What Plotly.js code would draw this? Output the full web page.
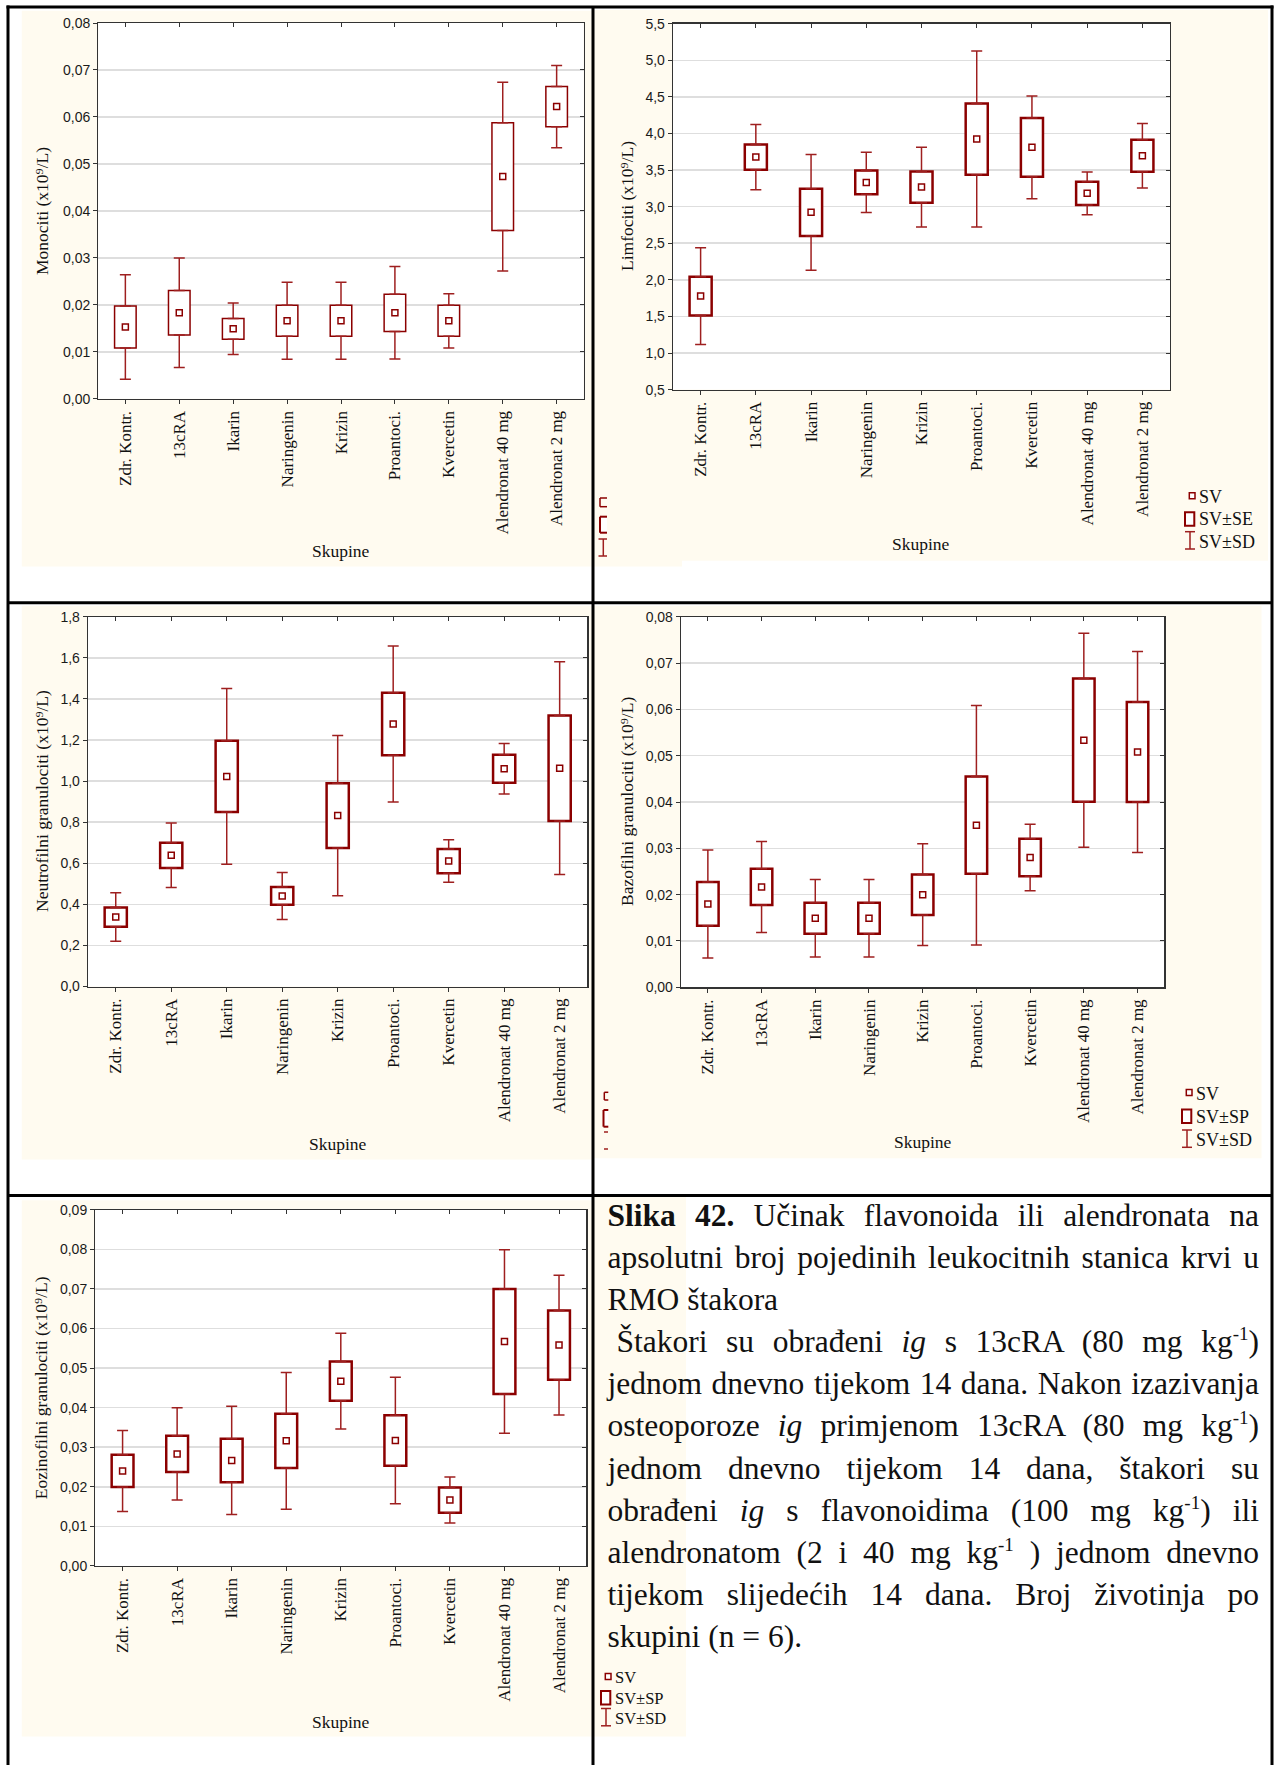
<!DOCTYPE html>
<html>
<head>
<meta charset="utf-8">
<script src="https://cdn.plot.ly/plotly-3.0.1.min.js"></script>
<style>
  body { margin: 0; background: #ffffff; }
  #wrap { position: relative; width: 1276px; height: 1765px; overflow: hidden; }
  #chart { position: absolute; left: 0; top: 0; width: 1276px; height: 1765px; }
  #caption { position: absolute; left: 607.5px; top: 1195px; width: 651.5px;
    font-family: 'Liberation Serif', 'Times New Roman', serif; font-size: 31.5px;
    line-height: 42.1px; color: #111; }
  #caption div { height: 42.1px; font-size: 31.5px; }
  #caption .j { text-align: justify; text-align-last: justify; }
  #caption .l { text-align: left; }
  #caption sup { font-size: 19px; vertical-align: 12px; line-height: 0; }
  #caption b, #caption i { font-size: 31.5px; }
</style>
</head>
<body>
<div id="wrap">
  <div id="chart"></div>
  <div id="caption">
    <div class="j"><b>Slika 42.</b> Učinak flavonoida ili alendronata na</div>
    <div class="j">apsolutni broj pojedinih leukocitnih stanica krvi u</div>
    <div class="l">RMO štakora</div>
    <div class="j" style="padding-left:9px">Štakori su obrađeni <i>ig</i> s 13cRA (80 mg kg<sup>-1</sup>)</div>
    <div class="j">jednom dnevno tijekom 14 dana. Nakon izazivanja</div>
    <div class="j">osteoporoze <i>ig</i> primjenom 13cRA (80 mg kg<sup>-1</sup>)</div>
    <div class="j">jednom dnevno tijekom 14 dana, štakori su</div>
    <div class="j">obrađeni <i>ig</i> s flavonoidima (100 mg kg<sup>-1</sup>) ili</div>
    <div class="j">alendronatom (2 i 40 mg kg<sup>-1</sup> ) jednom dnevno</div>
    <div class="j">tijekom slijedećih 14 dana. Broj životinja po</div>
    <div class="l">skupini (n = 6).</div>
  </div>
</div>
<script>
// ---------------- DATA ----------------
var categories = ['Zdr. Kontr.', '13cRA', 'Ikarin', 'Naringenin', 'Krizin', 'Proantoci.', 'Kvercetin', 'Alendronat 40 mg', 'Alendronat 2 mg'];

var monoMean = [0.0153, 0.0183, 0.0149, 0.0166, 0.0166, 0.0183, 0.0166, 0.0473, 0.0622];
var monoSE   = [0.00448, 0.00474, 0.0022, 0.0033, 0.0033, 0.00397, 0.0033, 0.01145, 0.0043];
var monoSD   = [0.01113, 0.01165, 0.00548, 0.0082, 0.0082, 0.00985, 0.00578, 0.0201, 0.00875];

var limfMean = [1.778, 3.677, 2.922, 3.331, 3.267, 3.924, 3.810, 3.182, 3.696];
var limfSE   = [0.264, 0.1725, 0.3215, 0.1625, 0.2145, 0.4865, 0.4025, 0.1595, 0.2195];
var limfSD   = [0.6615, 0.4445, 0.7895, 0.411, 0.544, 1.203, 0.7005, 0.293, 0.4395];

var neutMean = [0.338, 0.639, 1.023, 0.441, 0.832, 1.278, 0.611, 1.060, 1.063];
var neutSE   = [0.0465, 0.0615, 0.173, 0.0435, 0.1575, 0.1525, 0.059, 0.068, 0.257];
var neutSD   = [0.118, 0.1575, 0.4275, 0.1145, 0.39, 0.38, 0.104, 0.123, 0.518];

var bazoMean = [0.0180, 0.02167, 0.0149, 0.0149, 0.0200, 0.0350, 0.02802, 0.05335, 0.0508];
var bazoSE   = [0.00471, 0.003925, 0.00335, 0.00335, 0.00438, 0.010495, 0.00405, 0.013305, 0.010785];
var bazoSD   = [0.011655, 0.009835, 0.00835, 0.00835, 0.01099, 0.02587, 0.00719, 0.0231, 0.021695];

var eozMean = [0.0240, 0.0283, 0.02665, 0.0316, 0.04668, 0.0317, 0.01665, 0.05672, 0.0558];
var eozSE   = [0.004075, 0.004585, 0.005515, 0.00686, 0.004955, 0.006395, 0.003195, 0.01325, 0.008755];
var eozSD   = [0.01024, 0.011675, 0.01367, 0.01728, 0.012095, 0.01599, 0.005795, 0.02317, 0.017655];

var yTitles = ['Monociti (x10⁹/L)', 'Limfociti (x10⁹/L)',
  'Neutrofilni granulociti (x10⁹/L)', 'Bazofilni granulociti (x10⁹/L)',
  'Eozinofilni granulociti (x10⁹/L)'];
var xTitle = 'Skupine';
var legendLabels2 = ['SV', 'SV±SE', 'SV±SD'];
var legendLabels4 = ['SV', 'SV±SP', 'SV±SD'];
var legendLabels5 = ['SV', 'SV±SP', 'SV±SD'];

// ---------------- STYLE / LAYOUT ----------------
var W = 1276, H = 1765;
var BOX = '#8B0000', WHISK = '#9E1F1F', CREAM = '#FFFBF0';
var SERIF = 'Liberation Serif, Times New Roman, serif';
var SANS = 'Liberation Sans, Arial, sans-serif';
function px(x) { return x / W; }
function py(y) { return 1 - y / H; }

// plot-area boxes in pixels: [left, top, right, bottom]
var panels = [
  {mean: monoMean, se: monoSE, sd: monoSD, box: [98.4, 23, 583.6, 398.8], range: [0, 0.08], dtick: 0.01, fmt: '.2f', bw: 1.5,
   title: yTitles[0], tpos: [42, 211], spos: [340.6, 551]},
  {mean: limfMean, se: limfSE, sd: limfSD, box: [673, 23.7, 1170, 389.6], range: [0.5, 5.5], dtick: 0.5, fmt: '.1f', bw: 2.5,
   title: yTitles[1], tpos: [627, 206], spos: [921, 544]},
  {mean: neutMean, se: neutSE, sd: neutSD, box: [88, 616.8, 587.4, 986.5], range: [0, 1.8], dtick: 0.2, fmt: '.1f', bw: 2.5,
   title: yTitles[2], tpos: [41.3, 800.7], spos: [337.5, 1144.2]},
  {mean: bazoMean, se: bazoSE, sd: bazoSD, box: [681, 616.8, 1164.4, 987.3], range: [0, 0.08], dtick: 0.01, fmt: '.2f', bw: 2.5,
   title: yTitles[3], tpos: [627, 802], spos: [922.5, 1142.3]},
  {mean: eozMean, se: eozSE, sd: eozSD, box: [95.3, 1209.8, 586.3, 1565.9], range: [0, 0.09], dtick: 0.01, fmt: '.2f', bw: 2.5,
   title: yTitles[4], tpos: [41.3, 1388], spos: [340.6, 1721.7]}
];

var data = [];
var layout = {
  width: W, height: H, margin: {l: 0, r: 0, t: 0, b: 0},
  paper_bgcolor: '#ffffff', plot_bgcolor: '#ffffff',
  separators: ',.', showlegend: false, hovermode: false,
  font: {family: SANS, color: '#111', size: 14},
  shapes: [], annotations: []
};

function rect(x0, y0, x1, y1, fill, lineColor, lw, layer) {
  return {type: 'rect', xref: 'paper', yref: 'paper', x0: px(x0), x1: px(x1), y0: py(y0), y1: py(y1),
    fillcolor: fill, line: {color: lineColor || 'rgba(0,0,0,0)', width: lw || 0}, layer: layer || 'above'};
}
function seg(x0, y0, x1, y1, color, lw) {
  return {type: 'line', xref: 'paper', yref: 'paper', x0: px(x0), x1: px(x1), y0: py(y0), y1: py(y1),
    line: {color: color, width: lw}, layer: 'above'};
}
var S = layout.shapes;
// cream panel backgrounds
S.push(rect(21.8, 10.7, 593, 566.4, CREAM, null, 0, 'below'));
S.push(rect(593, 10, 1268, 560.7, CREAM, null, 0, 'below'));
S.push(rect(593, 560, 682, 566.4, CREAM, null, 0, 'below'));
S.push(rect(21.8, 605.7, 593, 1159.5, CREAM, null, 0, 'below'));
S.push(rect(593, 605.7, 1261.5, 1158.3, CREAM, null, 0, 'below'));
S.push(rect(21.8, 1200.3, 593, 1736.4, CREAM, null, 0, 'below'));
S.push(rect(593, 1197, 686, 1736.4, CREAM, null, 0, 'below'));

var tickIdx = categories.map(function (c, k) { return k; });

panels.forEach(function (p, i) {
  var n = i + 1;
  var sfx = n === 1 ? '' : String(n);
  var xa = 'x' + sfx, ya = 'y' + sfx;
  var ox = 'x' + (n + 5), oy = 'y' + (n + 5);
  var b = p.box;
  var xd = [px(b[0]), px(b[2])], yd = [py(b[3]), py(b[1])];

  // white plot area over the cream panel
  S.push(rect(b[0], b[1], b[2], b[3], '#ffffff', null, 0, 'below'));

  var lo = p.mean.map(function (m, k) { return m - p.se[k]; });
  var hi = p.mean.map(function (m, k) { return m + p.se[k]; });
  var h = p.se.map(function (s) { return 2 * s; });
  var ext = p.sd.map(function (s, k) { return s - p.se[k]; });
  var zeros = p.mean.map(function () { return 0; });

  data.push({type: 'bar', x: categories, y: h, base: lo, width: 0.4, xaxis: xa, yaxis: ya,
    marker: {color: '#ffffff', line: {color: BOX, width: p.bw}}, hoverinfo: 'skip'});
  data.push({type: 'scatter', mode: 'markers', x: categories, y: hi, xaxis: xa, yaxis: ya,
    marker: {size: 1, opacity: 0},
    error_y: {type: 'data', symmetric: false, array: ext, arrayminus: zeros, width: 5.5, thickness: 1.5, color: WHISK},
    hoverinfo: 'skip'});
  data.push({type: 'scatter', mode: 'markers', x: categories, y: lo, xaxis: xa, yaxis: ya,
    marker: {size: 1, opacity: 0},
    error_y: {type: 'data', symmetric: false, array: zeros, arrayminus: ext, width: 5.5, thickness: 1.5, color: WHISK},
    hoverinfo: 'skip'});
  data.push({type: 'scatter', mode: 'markers', x: categories, y: p.mean, xaxis: xa, yaxis: ya,
    marker: {symbol: 'square', size: 6, color: '#ffffff', line: {color: BOX, width: 1.5}}, hoverinfo: 'skip'});

  layout['xaxis' + sfx] = {domain: xd, anchor: ya, type: 'category', range: [-0.5, 8.5],
    tickangle: -90, tickfont: {family: SERIF, size: 17, color: '#111'},
    ticks: 'outside', ticklen: 4, tickcolor: '#333', showgrid: false, zeroline: false,
    showline: true, mirror: true, linecolor: '#333', linewidth: 1.3, fixedrange: true};
  layout['yaxis' + sfx] = {domain: yd, anchor: xa, range: p.range, dtick: p.dtick, tick0: 0, tickformat: p.fmt,
    tickfont: {family: SANS, size: 14, color: '#1a1a1a'},
    ticks: 'outside', ticklen: 4, tickcolor: '#333', showgrid: true, gridcolor: '#dedede', gridwidth: 1.5,
    zeroline: false, showline: true, mirror: true, linecolor: '#333', linewidth: 1.3, fixedrange: true};
  // inward ticks on the top and right frame
  layout['xaxis' + (n + 5)] = {overlaying: xa, side: 'top', anchor: ya, type: 'linear', range: [-0.5, 8.5],
    tickmode: 'array', tickvals: tickIdx, showticklabels: false, ticks: 'inside', ticklen: 4, tickcolor: '#333',
    showgrid: false, zeroline: false, showline: false, fixedrange: true};
  layout['yaxis' + (n + 5)] = {overlaying: ya, side: 'right', anchor: xa, type: 'linear', range: p.range,
    dtick: p.dtick, tick0: 0, showticklabels: false, ticks: 'inside', ticklen: 4, tickcolor: '#333',
    showgrid: false, zeroline: false, showline: false, fixedrange: true};
  data.push({type: 'scatter', mode: 'markers', x: [], y: [], xaxis: ox, yaxis: ya, hoverinfo: 'skip'});
  data.push({type: 'scatter', mode: 'markers', x: [], y: [], xaxis: xa, yaxis: oy, hoverinfo: 'skip'});

  layout.annotations.push({xref: 'paper', yref: 'paper', x: px(p.tpos[0]), y: py(p.tpos[1]), text: p.title,
    textangle: -90, showarrow: false, xanchor: 'center', yanchor: 'middle', font: {family: SERIF, size: 17.5, color: '#111'}});
  layout.annotations.push({xref: 'paper', yref: 'paper', x: px(p.spos[0]), y: py(p.spos[1]), text: xTitle,
    showarrow: false, xanchor: 'center', yanchor: 'middle', font: {family: SERIF, size: 17.5, color: '#111'}});
});

// legend helper
function legend(x, tY, labels, fs) {
  S.push(rect(x + 4.3, tY[0] - 4, x + 10, tY[0] + 2, '#ffffff', BOX, 1.5));
  S.push(rect(x, tY[1] - 7, x + 9.3, tY[1] + 6.5, '#ffffff', BOX, 2));
  S.push(seg(x, tY[2] - 10, x + 10, tY[2] - 10, WHISK, 1.5));
  S.push(seg(x + 5, tY[2] - 10, x + 5, tY[2] + 7.3, WHISK, 1.5));
  S.push(seg(x, tY[2] + 7.3, x + 10, tY[2] + 7.3, WHISK, 1.5));
  labels.forEach(function (t, k) {
    layout.annotations.push({xref: 'paper', yref: 'paper', x: px(x + 12), y: py(tY[k]), text: t,
      showarrow: false, xanchor: 'left', yanchor: 'middle', font: {family: SERIF, size: fs, color: '#111'}});
  });
}
legend(1185, [496.7, 519.3, 541.7], legendLabels2, 18);
legend(1182, [1093.5, 1116.5, 1140], legendLabels4, 18);
legend(601, [1677.5, 1698, 1718.5], legendLabels5, 16.5);

// clipped legend fragments peeking past the column divider
S.push(seg(600, 498, 607, 498, BOX, 1.5)); S.push(seg(600, 498, 600, 506.7, BOX, 1.5)); S.push(seg(600, 506.7, 607, 506.7, BOX, 1.5));
S.push(rect(600, 516.7, 607, 532.7, '#ffffff', null, 0));
S.push(seg(600, 516.7, 607, 516.7, BOX, 2)); S.push(seg(600, 516.7, 600, 532.7, BOX, 2)); S.push(seg(600, 532.7, 607, 532.7, BOX, 2));
S.push(seg(598.5, 539, 607, 539, WHISK, 1.5)); S.push(seg(603.3, 539, 603.3, 556, WHISK, 1.5)); S.push(seg(598.5, 556, 607, 556, WHISK, 1.5));
S.push(seg(604.3, 1092.3, 608.3, 1092.3, BOX, 1.5)); S.push(seg(604.3, 1092.3, 604.3, 1100, BOX, 1.5)); S.push(seg(604.3, 1100, 608.3, 1100, BOX, 1.5));
S.push(rect(603.5, 1110, 608.3, 1126.7, '#ffffff', null, 0));
S.push(seg(603.5, 1110, 608.3, 1110, BOX, 2)); S.push(seg(603.5, 1110, 603.5, 1126.7, BOX, 2)); S.push(seg(603.5, 1126.7, 608.3, 1126.7, BOX, 2));
S.push(seg(604, 1132, 608, 1132, WHISK, 1.5)); S.push(seg(604, 1149, 608, 1149, WHISK, 1.5));

// frame lines
S.push(seg(6.5, 7, 1273.5, 7, '#000', 3));
S.push(seg(8, 5.5, 8, 1765, '#000', 3));
S.push(seg(1272, 5.5, 1272, 1765, '#000', 3));
S.push(seg(593, 7, 593, 1765, '#000', 3));
S.push(seg(8, 602.7, 1272, 602.7, '#000', 3));
S.push(seg(8, 1195.5, 1272, 1195.5, '#000', 3));

Plotly.newPlot('chart', data, layout, {staticPlot: true, displayModeBar: false});
</script>
</body>
</html>
